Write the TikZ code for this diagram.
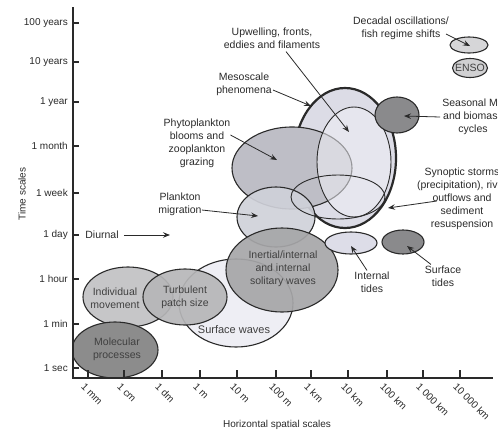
\documentclass[tikz,border=0pt]{standalone}
\usepackage{fontspec}
\setmainfont{Liberation Sans}
\usetikzlibrary{shapes.geometric,arrows.meta}
\definecolor{ink}{HTML}{2A2A2A}
\definecolor{cmol}{HTML}{8C8C8C}
\definecolor{cinert}{HTML}{A6A6A8}
\definecolor{cturb}{HTML}{B6B6B8}
\definecolor{cindiv}{HTML}{C6C6C8}
\definecolor{cphyto}{HTML}{BEBEC6}
\definecolor{cmigr}{HTML}{CFD1D9}
\definecolor{cmeso}{HTML}{DCDCE6}
\definecolor{cupw}{HTML}{F0F0F6}
\definecolor{csurfw}{HTML}{EEEEF4}
\definecolor{cintt}{HTML}{DDDDE8}
\definecolor{cseas}{HTML}{8A8A8C}
\definecolor{cdec}{HTML}{D6D6D8}
\definecolor{censo}{HTML}{D0D0D2}
\newcommand\lblfont{\fontsize{10.5}{13}\selectfont}
\newcommand\tickfont{\fontsize{10}{12}\selectfont}
\begin{document}
\begin{tikzpicture}[x=1pt,y=-1pt,
  blob/.style={ellipse,draw=ink,line width=1.1pt,inner sep=0pt},
  lbl/.style={font=\lblfont,align=center,inner sep=0pt,text=ink},
  inlbl/.style={font=\lblfont,align=center,inner sep=0pt,text=black!75},
  arr/.style={-{Stealth[length=7pt,width=5.5pt,inset=2.5pt]},line width=0.8pt,draw=ink},
  axis/.style={line width=2.2pt,draw=ink},
  ytl/.style={font=\tickfont,anchor=east,inner sep=0pt,text=ink},
  xtl/.style={font=\tickfont,anchor=west,rotate=-45,inner sep=0pt,text=ink}]
\useasboundingbox (0,0) rectangle (498,437);

% ---- small-scale ellipses
\node[blob,fill=csurfw,minimum width=114pt,minimum height=88pt] (surfw) at (236,303) {};
\node[blob,fill=cindiv,minimum width=90pt,minimum height=60pt] (indiv) at (128,297) {};
\node[blob,fill=cturb,fill opacity=0.92,minimum width=84pt,minimum height=56pt] (turb) at (185,297) {};
\begin{scope}
  \clip (73,0) rectangle (498,378);
  \node[blob,fill=cmol,minimum width=86pt,minimum height=56pt] (mol) at (115,350) {};
\end{scope}

% ---- mesoscale group
\node[blob,fill=cmeso,line width=2.2pt,minimum width=102pt,minimum height=140pt] (meso) at (345,158) {};
\node[blob,fill=cphyto,minimum width=120pt,minimum height=82pt] (phyto) at (292,168) {};
\node[blob,fill=cupw,fill opacity=0.55,line width=0.9pt,minimum width=74pt,minimum height=110pt] (upw) at (354,162) {};
\node[blob,fill=cmigr,fill opacity=0.92,minimum width=78pt,minimum height=60pt] (migr) at (276,217) {};
\node[blob,line width=0.9pt,minimum width=94pt,minimum height=44pt] (syn) at (338,197) {};
\node[blob,fill=cinert,fill opacity=0.92,minimum width=112pt,minimum height=84pt] (inert) at (282,270) {};
\node[blob,fill=cintt,minimum width=52pt,minimum height=22pt] (intt) at (351,243) {};
\node[blob,fill=cseas,minimum width=42pt,minimum height=24pt] (surft) at (403,242) {};
\node[blob,fill=cseas,minimum width=44pt,minimum height=36pt] (seas) at (397,115) {};
\node[blob,fill=cdec,minimum width=38pt,minimum height=16pt] (dec) at (469,45) {};
\node[blob,fill=censo,minimum width=35pt,minimum height=19pt] (enso) at (470,68) {};

% ---- texts inside ellipses
\node[inlbl] (tindiv) at (115,298) {Individual\\movement};
\node[inlbl] (tturb) at (185,297) {Turbulent\\patch size};
\node[inlbl] (tmol) at (117,349) {Molecular\\processes};
\node[inlbl,font=\fontsize{11}{13}\selectfont] (tsurfw) at (234,330) {Surface waves};
\node[inlbl] (tinert) at (283,269) {Inertial/internal\\and internal\\solitary waves};
\node[inlbl] (tenso) at (470,68) {ENSO};

% ---- outside labels and arrows
\node[lbl] (ldec) at (401,28) {Decadal oscillations/\\fish regime shifts};
\coordinate (pdec) at (470,46);
\draw[arr] ([xshift=-3pt,yshift=-6pt]ldec.east) -- (pdec);

\node[lbl] (lupw) at (272,38) {Upwelling, fronts,\\eddies and filaments};
\coordinate (pupw) at (349,132);
\draw[arr] ([xshift=14pt,yshift=-3pt]lupw.south) -- (pupw);

\node[lbl] (lmeso) at (244,84) {Mesoscale\\phenomena};
\coordinate (pmeso) at (311,106);
\draw[arr] ([xshift=1pt,yshift=-6pt]lmeso.east) -- (pmeso);

\node[lbl] (lphyto) at (197,143) {Phytoplankton\\blooms and\\zooplankton\\grazing};
\coordinate (pphyto) at (277,160);
\draw[arr] ([yshift=8pt]lphyto.east) -- (pphyto);

\node[lbl] (lmigr) at (180,204) {Plankton\\migration};
\coordinate (pmigr) at (258,216);
\draw[arr] ([yshift=-6pt]lmigr.east) -- (pmigr);

\node[lbl] (ldiur) at (102,235) {Diurnal};
\coordinate (pdiur) at (170,235);
\draw[arr] ([xshift=5pt]ldiur.east) -- (pdiur);

\node[lbl] (lseas) at (473,117) {Seasonal ML\\and biomass\\cycles};
\coordinate (pseas) at (404,116);
\draw[arr] ([xshift=-2pt]lseas.west) -- (pseas);

\node[lbl] (lsyn) at (462,199) {Synoptic storms\\(precipitation), river\\outflows and\\sediment\\resuspension};
\coordinate (psyn) at (388,208);
\draw[arr] ([xshift=20pt,yshift=-2pt]lsyn.west) -- (psyn);

\node[lbl] (lintt) at (372,282) {Internal\\tides};
\coordinate (pintt) at (351,246);
\draw[arr] ([xshift=-5pt,yshift=1pt]lintt.north) -- (pintt);

\node[lbl] (lsurft) at (443,276) {Surface\\tides};
\coordinate (psurft) at (407,246);
\draw[arr] ([xshift=-12pt,yshift=1pt]lsurft.north) -- (psurft);

% ---- axes
\coordinate (otop) at (73,7);
\coordinate (orig) at (73,378);
\coordinate (xend) at (493,378);
\draw[axis] (otop) -- (orig) -- (xend);
\foreach \yy/\t [count=\i] in {23/100 years,62/10 years,102/1 year,146/1 month,193/1 week,235/1 day,279/1 hour,324/1 min,368/1 sec}{
  \draw[axis,line width=1.8pt] (73,\yy) -- (79,\yy);
  \node[ytl] (yt\i) at (68,\yy) {\t};
}
\foreach \xx/\t [count=\i] in {88/1 mm,124/1 cm,162/1 dm,200/1 m,237/10 m,276/100 m,311/1 km,348/10 km,387/100 km,423/1 000 km,460/10 000 km}{
  \draw[axis,line width=1.8pt] (\xx,378) -- (\xx,370);
  \node[xtl] (xt\i) at (\xx-5,385) {\t};
}
\node[font=\tickfont,text=ink] (xlab) at (277,425) {Horizontal spatial scales};
\node[font=\tickfont,text=ink,rotate=90] (ylab) at (22,194) {Time scales};
\end{tikzpicture}
\end{document}
